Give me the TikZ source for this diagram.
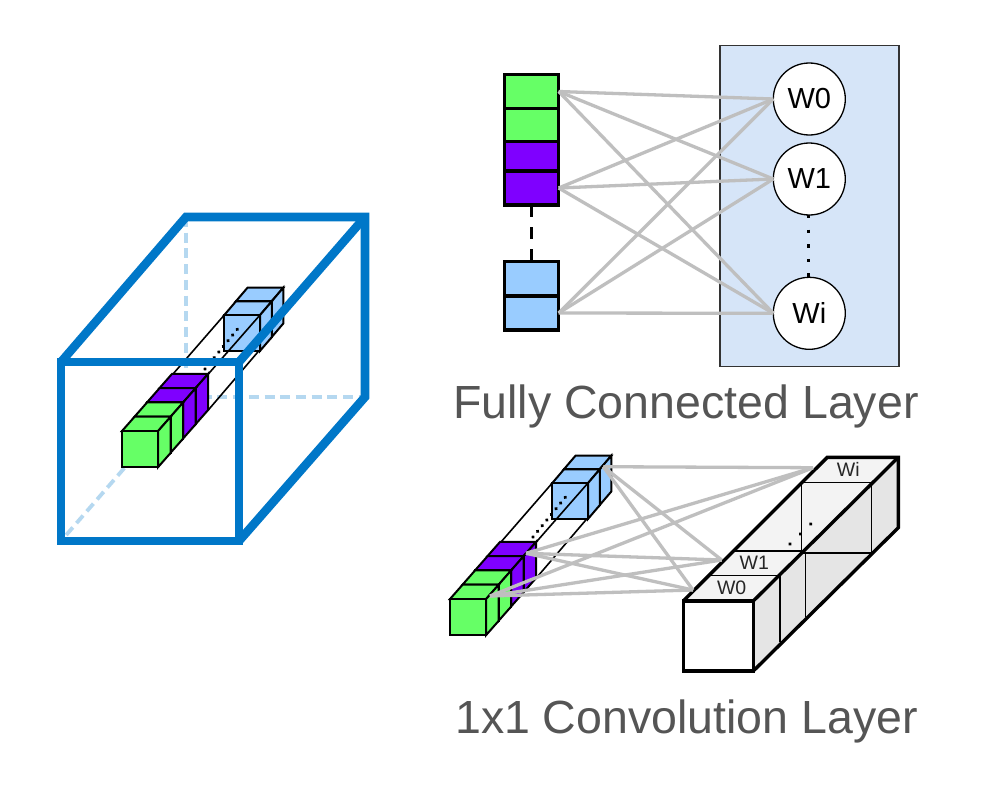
\documentclass[tikz,border=0pt]{standalone}
\usepackage{fontspec}
\setmainfont{Liberation Sans}
\definecolor{cgreen}{HTML}{66FF66}
\definecolor{cpurple}{HTML}{7F00FF}
\definecolor{cblue}{HTML}{99CCFF}
\definecolor{boxblue}{HTML}{0077C8}
\definecolor{lightdash}{HTML}{B5D8F0}
\definecolor{panel}{HTML}{D6E5F8}
\definecolor{wire}{HTML}{BFBFBF}
\definecolor{titlegrey}{HTML}{555555}
\definecolor{topface}{HTML}{F3F3F3}
\definecolor{sideface}{HTML}{E5E5E5}
\newcommand{\onecube}[6]{%
  % x, y, size, depth x, depth y, colour
  \filldraw[cubeline,fill=#6] (#1,#2) -- ++(#4,#5) -- ++(#3,0) -- ++(-#4,-#5) -- cycle;
  \filldraw[cubeline,fill=#6] (#1+#3,#2) -- ++(#4,#5) -- ++(0,#3) -- ++(-#4,-#5) -- cycle;
  \filldraw[cubeline,fill=#6] (#1,#2) rectangle ++(#3,#3);
}
\newcommand{\cubechain}{%
  \draw[stripline] (173,374) -- (224.3,315);
  \draw[stripline] (208.3,410) -- (260,349.5);
  \onecube{235.8}{301.4}{35.8}{11.7}{-13.7}{cblue}
  \onecube{224.3}{315}{35.8}{11.7}{-13.7}{cblue}
  \onecube{159.5}{388.1}{36.1}{12.6}{-14.3}{cpurple}
  \onecube{147}{402.4}{36.1}{12.6}{-14.3}{cpurple}
  \onecube{134.5}{416.7}{36.1}{12.6}{-14.3}{cgreen}
  \onecube{122}{431}{36.1}{12.6}{-14.3}{cgreen}
  \draw[stripline] (208.3,374) -- (260,315);
  \draw[rowdots] (205,369) -- (237.3,329.3);
}
\tikzset{
  cubeline/.style={draw=black,line width=2pt,line join=miter},
  stripline/.style={draw=black,line width=1.6pt},
  rowdots/.style={draw=black,line width=3.8pt,line cap=round,dash pattern=on 0.01pt off 7.29pt},
  bigedge/.style={draw=boxblue,line width=8.6pt,line join=miter,miter limit=10},
  hiddenedge/.style={draw=lightdash,line width=3.8pt,dash pattern=on 10pt off 5.7pt},
  wireline/.style={draw=wire,line width=3.3pt},
  slot/.style={draw=black,line width=3.3pt,minimum width=54pt,inner sep=0pt,outer sep=0pt},
  weight/.style={circle,draw=black,line width=1.3pt,fill=white,minimum size=72pt,inner sep=0pt,outer sep=0pt,font=\fontsize{29}{29}\selectfont},
  title/.style={text=titlegrey,inner sep=0pt,anchor=base,font=\fontsize{46.5}{46.5}\selectfont},
  tag/.style={text=black!85,inner sep=0pt,font=\fontsize{19.5}{19.5}\selectfont},
  blockedge/.style={draw=black,line width=3.4pt,line join=miter},
  blockline/.style={draw=black,line width=1.4pt},
}
\begin{document}
\begin{tikzpicture}[x=1pt,y=-1pt]
\useasboundingbox (0,0) rectangle (1006,798);
\fill[white] (0,0) rectangle (1006,798);
% left: volume
\draw[hiddenedge] (186,217) -- (186,397);
\draw[hiddenedge] (186,397) -- (365,397);
\draw[hiddenedge] (186,397) -- (61,541);
\cubechain
\draw[bigedge] (61,362) rectangle (239,541);
\draw[bigedge] (61,362) -- (186,217) -- (365,217) -- (365,397) -- (239,541);
\draw[bigedge] (239,362) -- (365,217);
% fully connected
\node[draw=black!80,line width=1.2pt,fill=panel,minimum width=179pt,minimum height=321.5pt,inner sep=0pt,outer sep=0pt] (layerbox) at (809.5,206) {};
\draw[draw=black,line width=3.3pt,dash pattern=on 11.5pt off 10.5pt] (531.7,205) -- (531.7,262);
\node[slot,fill=cgreen,minimum height=33.5pt] (g1) at (531.7,91.5) {};
\node[slot,fill=cgreen,minimum height=33.5pt] (g2) at (531.7,125) {};
\node[slot,fill=cpurple,minimum height=29.5pt] (p1) at (531.7,156.4) {};
\node[slot,fill=cpurple,minimum height=34pt] (p2) at (531.7,188) {};
\node[slot,fill=cblue,minimum height=34.3pt] (b1) at (531.7,278.9) {};
\node[slot,fill=cblue,minimum height=34pt] (b2) at (531.7,313) {};
\node[weight] (w0) at (809.3,99) {W0};
\node[weight] (w1) at (809.3,179) {W1};
\node[weight] (wi) at (809.3,313.3) {Wi};
\foreach \s in {g1,p2,b2}{
  \foreach \t in {w0,w1,wi}{
    \draw[wireline] (\s.east) -- (\t.west);
  }
}
\draw[draw=black,line width=3.3pt,dash pattern=on 3.3pt off 11.3pt] (808.3,215) -- (808.3,277);
\node[title] (fctitle) at (686,418) {Fully Connected Layer};
% 1x1 convolution
\begin{scope}[shift={(328,168)}]
\cubechain
\end{scope}
\fill[topface] (683.3,601) -- (827.3,457.3) -- (898.3,457.3) -- (753.3,601) -- cycle;
\fill[sideface] (753.3,601) -- (898.3,457.3) -- (898.3,527.7) -- (753.3,671) -- cycle;
\fill[white] (683.3,601) rectangle (753.3,671);
\draw[blockline] (710,575.7) -- (780,575.7) -- (780,641.7);
\draw[blockline] (733.3,551) -- (801.7,551) -- (801.7,482.7) -- (871.7,482.7) -- (871.7,553) -- (803.3,553);
\draw[blockline] (805.7,553) -- (805.7,616.7);
\draw[blockedge] (683.3,601) rectangle (753.3,671);
\draw[blockedge] (683.3,601) -- (827.3,457.3) -- (898.3,457.3) -- (898.3,527.7) -- (753.3,671);
\draw[blockedge] (753.3,601) -- (898.3,457.3);
\draw[draw=black,line width=3.8pt,line cap=round,dash pattern=on 0.01pt off 14.39pt] (790,544) -- (821,514.3);
\node[tag] (t0) at (731.7,587.7) {W0};
\node[tag] (t1) at (754.3,562.3) {W1};
\node[tag] (ti) at (848.3,469) {Wi};
\coordinate (srcblue) at (603.3,466.7);
\coordinate (srcpurple) at (526,553.3);
\coordinate (srcgreen) at (490,596);
\coordinate (dst0) at (693,590);
\coordinate (dst1) at (721.7,560);
\coordinate (dsti) at (813,467.7);
\foreach \s in {srcblue,srcpurple,srcgreen}{
  \foreach \t in {dst0,dst1,dsti}{
    \draw[wireline] (\s) -- (\t);
  }
}
\node[title] (convtitle) at (686.5,733) {1x1 Convolution Layer};
\end{tikzpicture}
\end{document}
